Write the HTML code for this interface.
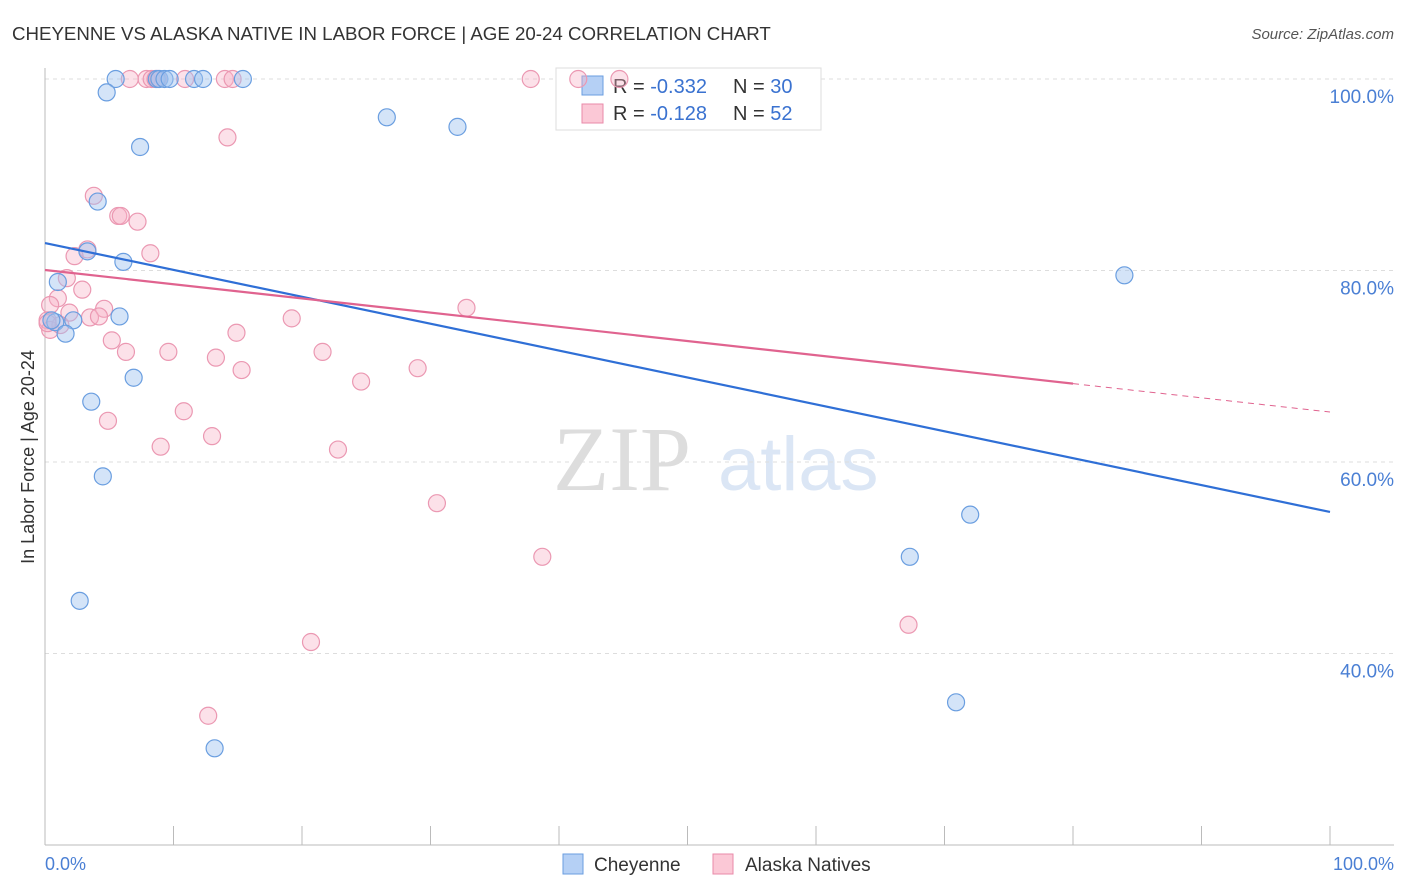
<!DOCTYPE html>
<html><head><meta charset="utf-8"><style>
body{margin:0;background:#fff;font-family:"Liberation Sans",sans-serif;}
svg{display:block}
</style></head><body>
<svg id="c" width="1406" height="892">
<text x="12" y="40" font-size="18.7" fill="#333">CHEYENNE VS ALASKA NATIVE IN LABOR FORCE | AGE 20-24 CORRELATION CHART</text>
<text x="1394" y="39" font-size="15" fill="#555" font-style="italic" text-anchor="end">Source: ZipAtlas.com</text>
<text x="553" y="490" font-size="92" fill="#ddd" font-family="Liberation Serif">ZIP</text>
<text x="718" y="490" font-size="76" fill="#dbe6f5">atlas</text>
<g id="grid"></g><g id="axes"></g>
<g>
<rect x="556" y="68" width="265" height="62" fill="#fff" stroke="#ddd"/>
<rect x="582" y="76" width="21" height="19" fill="#b5d0f5" stroke="#6a9ee0"/>
<rect x="582" y="104" width="21" height="19" fill="#fbc8d6" stroke="#e88aa8"/>
<text x="613" y="93" font-size="20" fill="#333">R = <tspan fill="#3a72d0">-0.332</tspan></text>
<text x="733" y="93" font-size="20" fill="#333">N = <tspan fill="#3a72d0">30</tspan></text>
<text x="613" y="120" font-size="20" fill="#333">R = <tspan fill="#3a72d0"> -0.128</tspan></text>
<text x="733" y="120" font-size="20" fill="#333">N = <tspan fill="#3a72d0"> 52</tspan></text>
</g>
<g id="pts"></g><g id="lines"></g>
<text transform="translate(34,457) rotate(-90)" font-size="18" fill="#333" text-anchor="middle">In Labor Force | Age 20-24</text>
<text x="45" y="870" font-size="18" fill="#4a7fd4">0.0%</text>
<text x="1394" y="870" font-size="18" fill="#4a7fd4" text-anchor="end">100.0%</text>
<g>
<rect x="563" y="854" width="20" height="20" fill="#b5d0f5" stroke="#6a9ee0"/>
<text x="594" y="871" font-size="19" fill="#333">Cheyenne</text>
<rect x="713" y="854" width="20" height="20" fill="#fbc8d6" stroke="#e88aa8"/>
<text x="745" y="871" font-size="19" fill="#333">Alaska Natives</text>
</g>
</svg>
<script>
const yTicks=[100,80,60,40];
const yTickLabels=["100.0%","80.0%","60.0%","40.0%"];
const xTicks=[0,10,20,30,40,50,60,70,80,90,100];
const cheyX=[5.5,4.8,8.7,8.9,9.3,9.7,11.6,12.3,15.4,7.4,4.1,3.3,6.1,1.0,5.8,2.2,0.8,1.6,6.9,3.6,4.5,2.7,13.2,26.6,32.1,84.0,72.0,67.3,70.9,0.5];
const cheyY=[100,98.6,100,100,100,100,100,100,100,92.9,87.2,82.0,80.9,78.8,75.2,74.8,74.6,73.4,68.8,66.3,58.5,45.5,30.1,96.0,95.0,79.5,54.5,50.1,34.9,74.8];
const alaskaX=[6.6,7.9,8.3,8.8,10.9,14.0,14.6,37.8,41.5,44.7,8.6,14.2,3.8,5.7,5.9,7.2,3.3,8.2,2.3,1.7,2.9,1.0,0.4,0.2,1.9,4.6,3.5,4.2,5.2,6.3,9.6,13.3,14.9,19.2,21.6,15.3,24.6,29.0,32.8,4.9,10.8,13.0,9.0,22.8,30.5,38.7,20.7,12.7,67.2,0.4,1.2,0.2];
const alaskaY=[100,100,100,100,100,100,100,100,100,100,100,93.9,87.8,85.7,85.7,85.1,82.2,81.8,81.5,79.2,78.0,77.1,76.4,74.8,75.6,76.0,75.1,75.2,72.7,71.5,71.5,70.9,73.5,75.0,71.5,69.6,68.4,69.8,76.1,64.3,65.3,62.7,61.6,61.3,55.7,50.1,41.2,33.5,43.0,73.8,74.3,74.5];
const cheyTrend=[82.87,54.78];
const alaskaTrend=[80.05,65.22];
const alaskaSolidEnd=80;
const NS="http://www.w3.org/2000/svg";
const X=v=>45+v*12.85, Y=v=>79+(100-v)*9.575;
function mk(p,t,a){const e=document.createElementNS(NS,t);for(const k in a)e.setAttribute(k,a[k]);p.appendChild(e);return e;}
const grid=document.getElementById('grid'),axes=document.getElementById('axes'),pts=document.getElementById('pts'),lines=document.getElementById('lines');
yTicks.forEach((t,i)=>{
 const l=mk(grid,'line',{x1:45,x2:1394,y1:Y(t),y2:Y(t),stroke:'#ddd','stroke-dasharray':'4,4'});
 
 
 const tx=mk(grid,'text',{x:1394,y:Y(t)+24,'font-size':19,fill:'#4a7fd4','text-anchor':'end'});
 tx.textContent=yTickLabels[i];
 
 
});
const ya=mk(axes,'line',{x1:45,x2:45,y1:68,y2:845,stroke:'#bbb'});


const xa=mk(axes,'line',{x1:45,x2:1394,y1:845,y2:845,stroke:'#bbb'});


xTicks.forEach(t=>{
 const l=mk(axes,'line',{x1:X(t),x2:X(t),y1:826,y2:845,stroke:'#bbb'});
 
 
});
alaskaX.forEach((v,i)=>{
 const c=mk(pts,'circle',{cx:X(v),cy:Y(alaskaY[i]),r:8.5,fill:'rgba(248,175,198,0.38)',stroke:'#eb98b2','stroke-width':1.2});
 
 
});
cheyX.forEach((v,i)=>{
 const c=mk(pts,'circle',{cx:X(v),cy:Y(cheyY[i]),r:8.5,fill:'rgba(160,196,240,0.45)',stroke:'#6a9ee0','stroke-width':1.2});
 
 
});
const at=x=>alaskaTrend[0]+(alaskaTrend[1]-alaskaTrend[0])*x/100;
const b=mk(lines,'line',{x1:X(0),y1:Y(cheyTrend[0]),x2:X(100),y2:Y(cheyTrend[1]),stroke:'#2f6fd6','stroke-width':2.2});


const p=mk(lines,'line',{x1:X(0),y1:Y(at(0)),x2:X(alaskaSolidEnd),y2:Y(at(alaskaSolidEnd)),stroke:'#e0638f','stroke-width':2.2});


const pd=mk(lines,'line',{x1:X(alaskaSolidEnd),y1:Y(at(alaskaSolidEnd)),x2:X(100),y2:Y(at(100)),stroke:'#e0638f','stroke-width':1,'stroke-dasharray':'6,5'});


</script>
</body></html>
